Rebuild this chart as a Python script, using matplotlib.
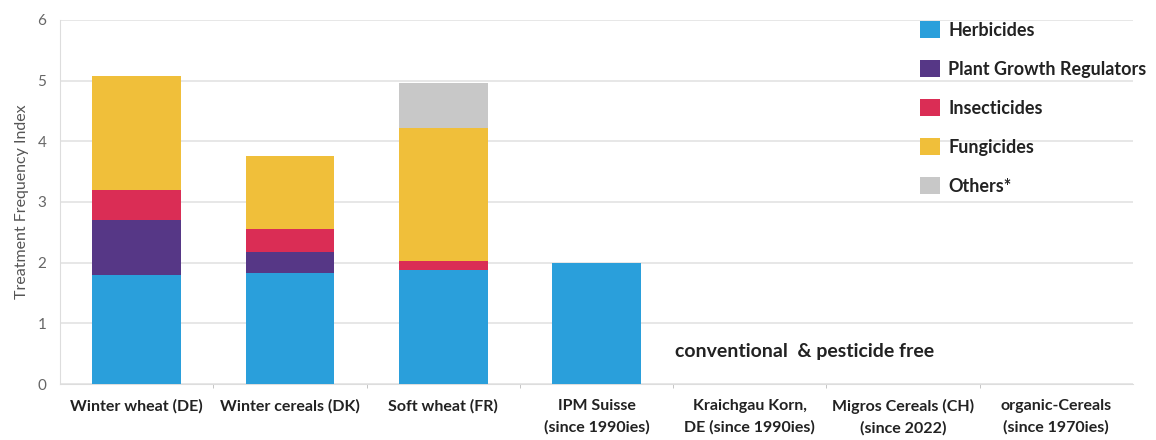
import matplotlib.pyplot as plt
import numpy as np

categories = ["Winter wheat (DE)", "Winter cereals (DK)", "Soft wheat (FR)",
              "IPM Suisse\n(since 1990ies)", "Kraichgau Korn,\nDE (since 1990ies)",
              "Migros Cereals (CH)\n(since 2022)", "organic-Cereals\n(since 1970ies)"]

herbicides = [1.8, 1.83, 1.88, 2.0, 0, 0, 0]
growth_regulators = [0.9, 0.35, 0, 0, 0, 0, 0]
insecticides = [0.5, 0.37, 0.15, 0, 0, 0, 0]
fungicides = [1.88, 1.2, 2.19, 0, 0, 0, 0]
others = [0, 0, 0.74, 0, 0, 0, 0]

series = [("Herbicides", herbicides, "#2a9fdb"),
          ("Plant Growth Regulators", growth_regulators, "#563786"),
          ("Insecticides", insecticides, "#da2d55"),
          ("Fungicides", fungicides, "#f0bf3a"),
          ("Others*", others, "#c8c8c8")]

plt.rcParams['font.family'] = ['Lato', 'DejaVu Sans']

fig = plt.figure(figsize=(11.56, 4.4), dpi=100)
ax = fig.add_axes([0.052, 0.127, 0.928, 0.828])

x = np.arange(len(categories))
bottom = np.zeros(len(categories))
for name, vals, col in series:
    vals = np.array(vals)
    ax.bar(x, vals, 0.58, bottom=bottom, color=col, label=name, zorder=3)
    bottom += vals

ax.set_xlim(-0.5, 6.5)
ax.set_ylim(0, 6)
ax.set_yticks(range(7))
ax.yaxis.grid(True, color="#e3e3e3", linewidth=1.2, zorder=0)
ax.set_axisbelow(True)

ax.set_xticks(x)
ax.set_xticklabels(categories, fontsize=11.5, fontweight="bold", color="#222222",
                   linespacing=1.6)
ax.set_xticks(np.arange(0.5, 6.5, 1), minor=True)
ax.tick_params(axis="x", which="major", length=0, pad=11)
ax.tick_params(axis="x", which="minor", length=3, color="#bbbbbb")
ax.tick_params(axis="y", length=0, labelsize=11, labelcolor="#666666", pad=10)

for s in ["top", "right"]:
    ax.spines[s].set_visible(False)
ax.spines["left"].set_color("#dddddd")
ax.spines["bottom"].set_color("#dddddd")

ax.set_ylabel("Treatment Frequency Index", fontsize=11.5, color="#555555", labelpad=6)

ax.text(3.51, 0.53, "conventional  & pesticide free", fontsize=14,
        fontweight="bold", color="#222222", va="center", ha="left")

leg = ax.legend(loc="upper left", bbox_to_anchor=(911 / 1156, 1 - 12 / 440),
                bbox_transform=fig.transFigure, frameon=False, fontsize=13,
                handlelength=1.1, handleheight=1.1, labelspacing=1.17,
                handletextpad=0.45, borderpad=0)
for t in leg.get_texts():
    t.set_fontweight("bold")
    t.set_color("#222222")

fig.savefig("out.png", dpi=100)
